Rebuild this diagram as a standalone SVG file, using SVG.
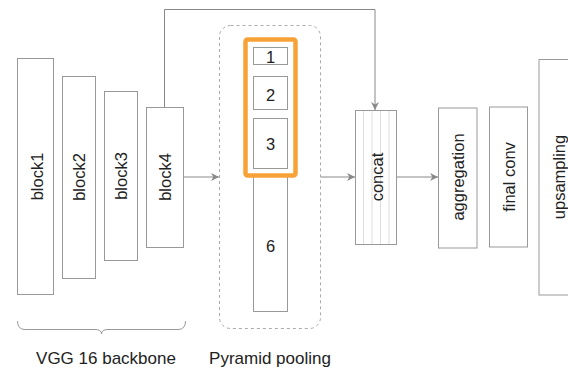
<svg xmlns="http://www.w3.org/2000/svg" width="568" height="368" viewBox="0 0 568 368">
<style>
.box{fill:#fff;stroke:#999;stroke-width:1}
.t{font-family:"Liberation Sans",Arial,sans-serif;font-size:16.5px;fill:#222;text-anchor:middle;dominant-baseline:central}
.cap{font-family:"Liberation Sans",Arial,sans-serif;font-size:17px;fill:#222;text-anchor:middle}
.conn{fill:none;stroke:#888;stroke-width:1}
.stripe{stroke:#ddd;stroke-width:1}
</style>
<defs>
<marker id="arr" viewBox="0 0 10 10" refX="10" refY="5" markerWidth="8" markerHeight="8" markerUnits="userSpaceOnUse" orient="auto">
<path d="M0,0 L10,5 L0,10 L3,5 Z" fill="#888"/>
</marker>
</defs>
<rect width="568" height="368" fill="#fff"/>
<g id="connectors">
<path class="conn" d="M164.5,107 V9.5 H375 V110" marker-end="url(#arr)"/>
<path class="conn" d="M183,177 H219" marker-end="url(#arr)"/>
<path class="conn" d="M321,177 H355" marker-end="url(#arr)"/>
<path class="conn" d="M397,177 H438" marker-end="url(#arr)"/>
</g>
<g id="block1"><rect class="box" x="17.5" y="58.5" width="36" height="236"/><text class="t" transform="translate(36.5,176.5) rotate(-90)">block1</text></g>
<g id="block2"><rect class="box" x="62.5" y="76.5" width="33" height="202"/><text class="t" transform="translate(79,177) rotate(-90)">block2</text></g>
<g id="block3"><rect class="box" x="104.5" y="91.5" width="33" height="169"/><text class="t" transform="translate(121,176) rotate(-90)">block3</text></g>
<g id="block4"><rect class="box" x="146.5" y="107.5" width="37" height="140"/><text class="t" transform="translate(165,177) rotate(-90)">block4</text></g>
<g id="backbone-brace">
<path d="M17.5,321 Q17.5,329.5 25,329.5 L95,329.5 Q101.5,329.5 101.5,334 Q101.5,329.5 108,329.5 L178,329.5 Q185.5,329.5 185.5,321" fill="none" stroke="#999" stroke-width="1"/>
<text class="cap" x="106" y="364">VGG 16 backbone</text>
</g>
<g id="pyramid">
<rect x="219.5" y="25.5" width="101" height="303" rx="11" fill="none" stroke="#aaa" stroke-width="1" stroke-dasharray="3,3"/>
<rect class="box" x="253.5" y="175.5" width="34" height="136"/>
<text class="t" x="270.5" y="246">6</text>
<rect class="box" x="253.5" y="47.5" width="34" height="17"/>
<text class="t" x="270.5" y="56.5">1</text>
<rect class="box" x="253.5" y="76.5" width="34" height="33"/>
<text class="t" x="270.5" y="94.5">2</text>
<rect class="box" x="253.5" y="118.5" width="34" height="50"/>
<text class="t" x="270.5" y="144">3</text>
<rect x="245.5" y="39.5" width="50" height="136" rx="2" fill="none" stroke="#f7a236" stroke-width="4.5"/>
<text class="cap" x="270" y="364">Pyramid pooling</text>
</g>
<g id="concat">
<rect class="box" x="355.5" y="110.5" width="41" height="134"/>
<line class="stripe" x1="363.5" y1="111" x2="363.5" y2="244"/>
<line class="stripe" x1="372" y1="111" x2="372" y2="244"/>
<line class="stripe" x1="380.5" y1="111" x2="380.5" y2="244"/>
<line class="stripe" x1="389" y1="111" x2="389" y2="244"/>
<rect x="355.5" y="110.5" width="41" height="134" fill="none" stroke="#999"/>
<text class="t" transform="translate(377,177) rotate(-90)">concat</text>
</g>
<g id="aggregation"><rect class="box" x="438.5" y="108" width="38.5" height="140"/><text class="t" transform="translate(458,177) rotate(-90)">aggregation</text></g>
<g id="final-conv"><rect class="box" x="489.5" y="107" width="38" height="140"/><text class="t" transform="translate(508.5,177) rotate(-90)">final conv</text></g>
<g id="upsampling"><rect class="box" x="539" y="59.5" width="40" height="235.5"/><text class="t" transform="translate(558.5,177) rotate(-90)">upsampling</text></g>
</svg>
